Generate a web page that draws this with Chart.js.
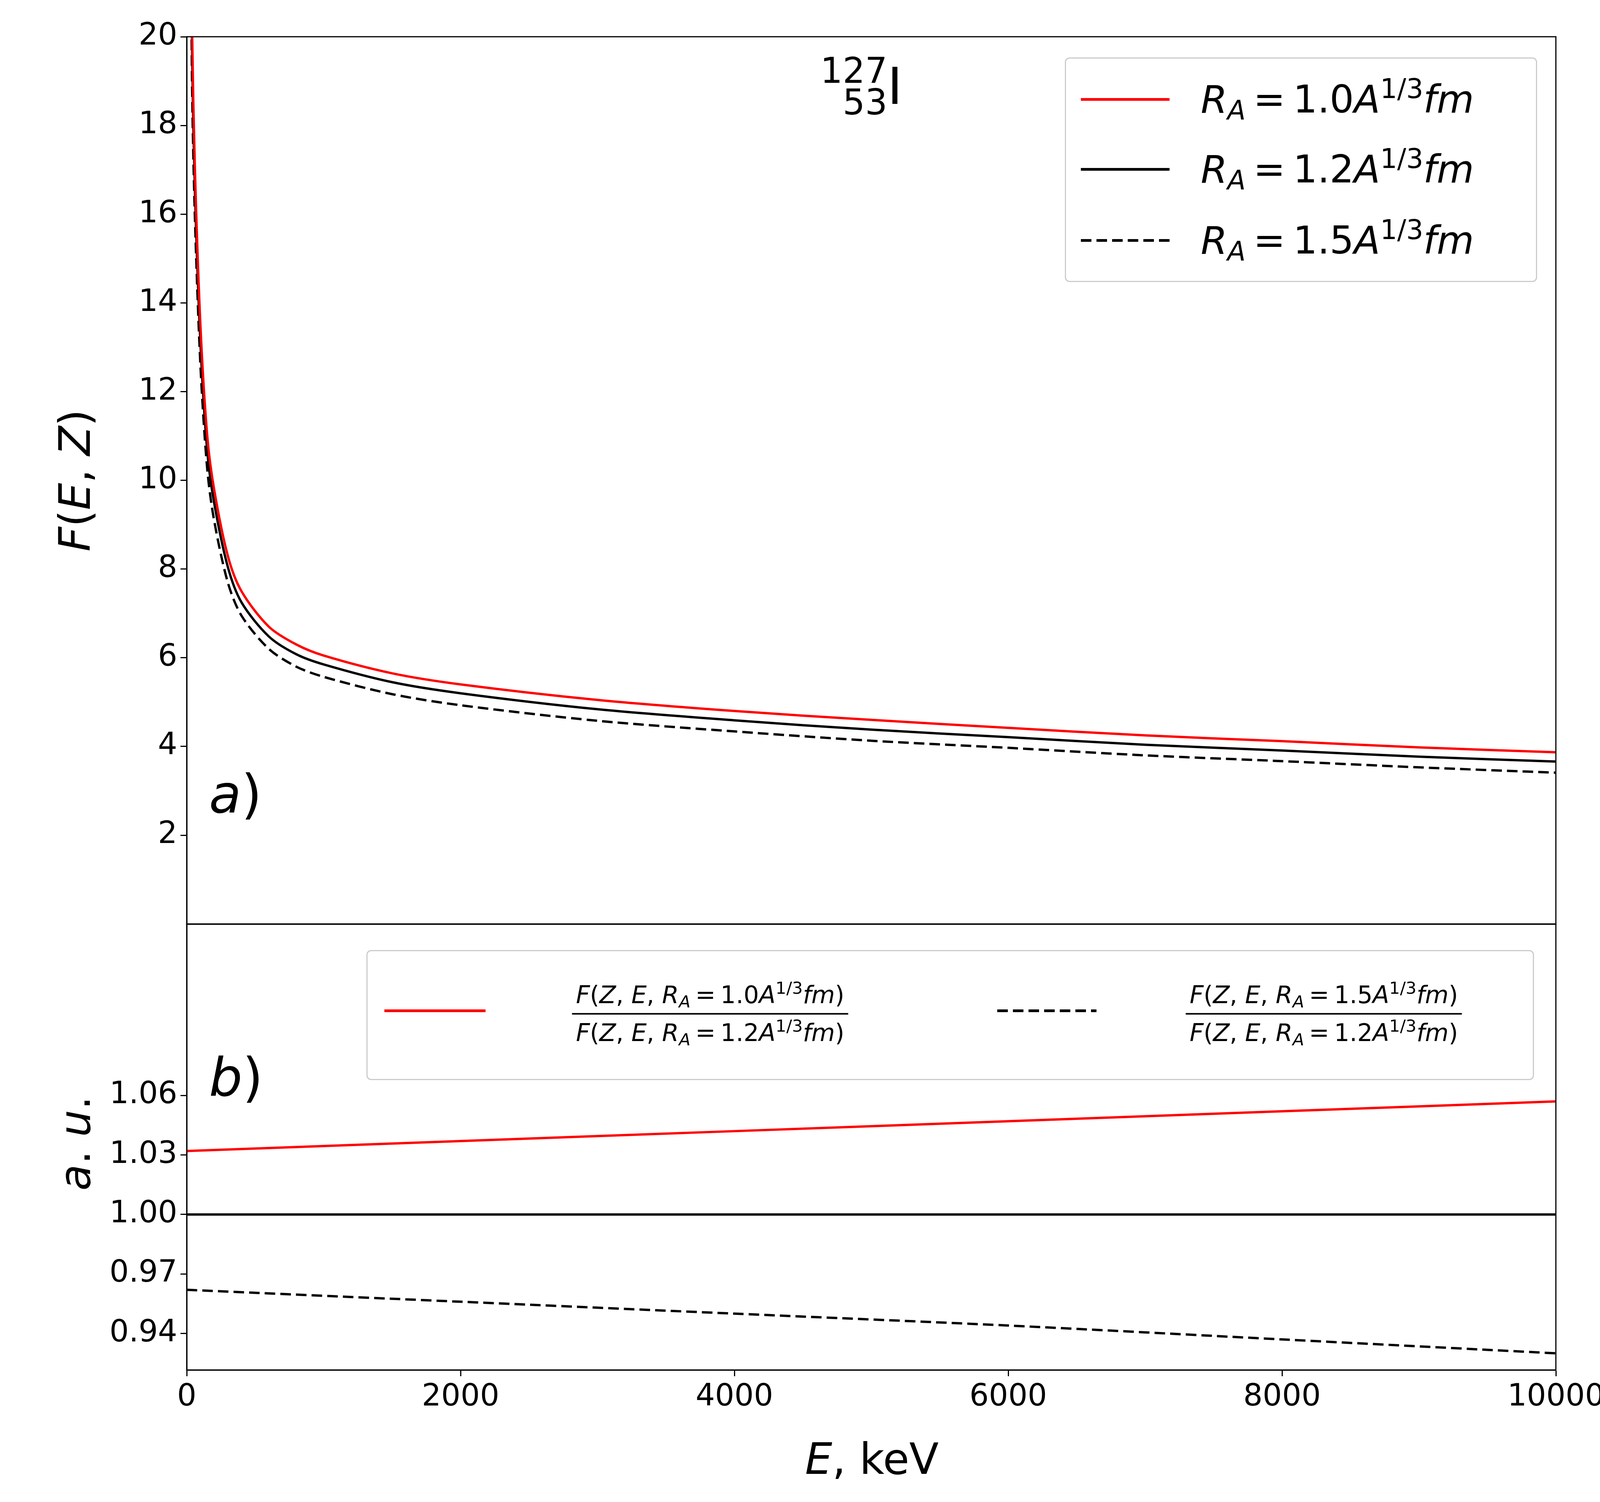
<!DOCTYPE html>
<html>
<head>
<meta charset="utf-8">
<script src="https://cdn.jsdelivr.net/npm/chart.js@4"></script>
<style>
  body { margin: 0; background: #fff; }
  #wrap { position: relative; width: 4170px; height: 3845px; font-family: "DejaVu Sans", sans-serif; color: #000; }
  canvas { position: absolute; left: 0; }
  .box { position: absolute; border: 3px solid #ccc; border-radius: 12px; background: rgba(255,255,255,0.8); }
  .smp { position: absolute; height: 7px; }
  .frac { display: inline-flex; flex-direction: column; align-items: center; }
  .frac span { padding: 4px 10px; }
  .frac .num { border-bottom: 4px solid #000; }
  sup { font-size: 0.7em; vertical-align: 0.55em; font-style: normal; }
  sub { font-size: 0.7em; vertical-align: -0.25em; }
  i { font-style: italic; }
</style>
</head>
<body>
<div id="wrap">
  <canvas id="top"></canvas>
  <canvas id="bot"></canvas>
</div>
<script>
// ----------------------
// Data
// ----------------------
const energies = [30, 40, 60, 100, 150, 200, 300, 400, 600, 800, 1000, 1500, 2000, 3000, 4000, 5000, 6000, 7000, 8000, 9000, 10000];
const fRed    = [24, 20, 17, 13.5, 11, 9.8, 8.3, 7.5, 6.7, 6.3, 6.05, 5.65, 5.4, 5.05, 4.8, 4.6, 4.42, 4.25, 4.12, 3.98, 3.87];
const fBlack  = [23.2, 19.4, 16.5, 13.1, 10.65, 9.5, 8.05, 7.25, 6.48, 6.08, 5.85, 5.45, 5.2, 4.84, 4.59, 4.38, 4.21, 4.04, 3.91, 3.77, 3.66];
const fDashed = [22.4, 18.7, 15.9, 12.6, 10.25, 9.1, 7.7, 6.95, 6.2, 5.8, 5.57, 5.18, 4.93, 4.58, 4.34, 4.13, 3.97, 3.8, 3.67, 3.53, 3.41];

const ratioE = [0, 2000, 4000, 6000, 8000, 10000];
const ratioRed = [1.032, 1.037, 1.042, 1.047, 1.052, 1.057];
const ratioOne = [1, 1, 1, 1, 1, 1];
const ratioDashed = [0.962, 0.956, 0.950, 0.944, 0.937, 0.930];

const topTicks = [2, 4, 6, 8, 10, 12, 14, 16, 18, 20];
const botTicks = [0.94, 0.97, 1.00, 1.03, 1.06];
const xTicks = [0, 2000, 4000, 6000, 8000, 10000];

// ----------------------
// Helpers
// ----------------------
const W = 4170;
const AXW = 240;
const pts = (xs, ys) => xs.map((x, i) => ({ x, y: ys[i] }));
const tickFont = { family: "DejaVu Sans", size: 78 };

const frame = {
  id: "frame",
  afterDraw(c) {
    const a = c.chartArea, ctx = c.ctx;
    ctx.save();
    ctx.strokeStyle = "#000";
    ctx.lineWidth = 3;
    ctx.strokeRect(a.left, a.top, a.right - a.left, a.bottom - a.top);
    ctx.restore();
  }
};

function setup(id, top, height) {
  const cv = document.getElementById(id);
  cv.style.top = top + "px";
  cv.width = W; cv.height = height;
  cv.style.width = W + "px"; cv.style.height = height + "px";
  return cv.getContext("2d");
}

function yAxis(min, max, ticks, decimals) {
  return {
    type: "linear", min, max,
    afterFit: s => { s.width = AXW; },
    afterBuildTicks: s => { s.ticks = ticks.map(v => ({ value: v })); },
    ticks: { font: tickFont, color: "#000", padding: 8, callback: v => decimals ? v.toFixed(decimals) : String(v) },
    grid: { drawOnChartArea: false, tickLength: 16, tickWidth: 3, tickColor: "#000" },
    border: { color: "#000", width: 3 }
  };
}

const line = (data, color, dash) => ({
  data, borderColor: color, borderWidth: 6, borderDash: dash || [],
  pointRadius: 0, tension: 0.3, fill: false
});

// ----------------------
// Top panel
// ----------------------
const topChart = new Chart(setup("top", 0, 2420), {
  type: "line",
  data: { datasets: [
    line(pts(energies, fRed), "#ff0000"),
    line(pts(energies, fBlack), "#000"),
    line(pts(energies, fDashed), "#000", [27, 13])
  ]},
  options: {
    responsive: false, animation: false, devicePixelRatio: 1,
    layout: { padding: { left: 478 - AXW, right: 187, top: 94, bottom: 0 } },
    plugins: { legend: { display: false }, tooltip: { enabled: false } },
    scales: {
      x: { type: "linear", min: 0, max: 10000, display: false },
      y: yAxis(0, 20, topTicks, 0)
    }
  },
  plugins: [frame]
});
// line the panel bottom up with the lower panel's top edge
const pad = topChart.options.layout.padding;
pad.bottom += topChart.chartArea.bottom - 2366;
pad.top += topChart.chartArea.top - 94 < 0 ? 94 - topChart.chartArea.top : 0;
topChart.update();

// ----------------------
// Bottom panel
// ----------------------
new Chart(setup("bot", 2300, 1545), {
  type: "line",
  data: { datasets: [
    line(pts(ratioE, ratioRed), "#ff0000"),
    line(pts(ratioE, ratioOne), "#000"),
    line(pts(ratioE, ratioDashed), "#000", [27, 13])
  ]},
  options: {
    responsive: false, animation: false, devicePixelRatio: 1,
    layout: { padding: { left: 478 - AXW, right: 187, top: 66, bottom: 0 } },
    plugins: { legend: { display: false }, tooltip: { enabled: false } },
    scales: {
      x: {
        type: "linear", min: 0, max: 10000,
        afterFit: s => { s.height = 338; },
        afterBuildTicks: s => { s.ticks = xTicks.map(v => ({ value: v })); },
        ticks: { font: tickFont, color: "#000", padding: 8, maxRotation: 0, callback: v => String(v) },
        grid: { drawOnChartArea: false, tickLength: 16, tickWidth: 3, tickColor: "#000" },
        border: { color: "#000", width: 3 }
      },
      y: yAxis(0.9216, 1.1463, botTicks, 2)
    }
  },
  plugins: [frame]
});

// ----------------------
// Text overlays and legends
// ----------------------
const wrap = document.getElementById("wrap");
function add(html, css, cls) {
  const d = document.createElement("div");
  d.innerHTML = html;
  d.style.cssText = css;
  if (cls) d.className = cls;
  wrap.appendChild(d);
  return d;
}
const RA = v => `<i>R<sub>A</sub></i>&thinsp;=&thinsp;${v}<i>A</i><sup>1/3</sup><i>fm</i>`;
const FZ = v => `<i>F</i>(<i>Z</i>, <i>E</i>, ${RA(v)})`;
const stroke = (color, dashed) => dashed
  ? `background:repeating-linear-gradient(90deg, ${color} 0 27px, transparent 27px 40px);`
  : `background:${color};`;

// axis titles
add(`<i>F</i>(<i>E</i>, <i>Z</i>)`, "position:absolute;left:192px;top:1230px;font-size:110px;white-space:nowrap;transform:translate(-50%,-50%) rotate(-90deg);");
add(`<i>a</i>. <i>u</i>.`, "position:absolute;left:192px;top:2927px;font-size:110px;white-space:nowrap;transform:translate(-50%,-50%) rotate(-90deg);");
add(`<i>E</i>, keV`, "position:absolute;left:2232px;top:3735px;font-size:110px;white-space:nowrap;transform:translate(-50%,-50%);");

// panel labels
add(`<i>a</i>)`, "position:absolute;left:535px;top:1955px;font-size:135px;");
add(`<i>b</i>)`, "position:absolute;left:535px;top:2680px;font-size:135px;");

// isotope
add(`<span style="display:inline-flex;flex-direction:column;align-items:flex-end;font-size:90px;line-height:0.9;vertical-align:middle">
  <span>127</span><span>53</span></span><span style="font-size:130px;vertical-align:middle">I</span>`,
  "position:absolute;left:2100px;top:140px;white-space:nowrap;");

// top legend
add("", "left:2726px;top:147px;width:1203px;height:569px;", "box");
const topRows = [["1.0", "#ff0000", false], ["1.2", "#000", false], ["1.5", "#000", true]];
const rowY = [254, 433, 615];
topRows.forEach((r, i) => {
  add("", `left:2767px;top:${rowY[i] - 3}px;width:227px;` + stroke(r[1], r[2]), "smp");
  add(RA(r[0]), `position:absolute;left:3074px;top:${rowY[i]}px;font-size:98px;white-space:nowrap;transform:translateY(-50%);`);
});

// bottom legend
add("", "left:938px;top:2432px;width:2983px;height:327px;", "box");
add("", "left:984px;top:2584px;width:259px;" + stroke("#ff0000", false), "smp");
add("", "left:2553px;top:2584px;width:254px;" + stroke("#000", true), "smp");
add(`<span class="frac"><span class="num">${FZ("1.0")}</span><span>${FZ("1.2")}</span></span>`,
  "position:absolute;left:1818px;top:2595px;font-size:62px;white-space:nowrap;transform:translate(-50%,-50%);");
add(`<span class="frac"><span class="num">${FZ("1.5")}</span><span>${FZ("1.2")}</span></span>`,
  "position:absolute;left:3389px;top:2595px;font-size:62px;white-space:nowrap;transform:translate(-50%,-50%);");
</script>
</body>
</html>
